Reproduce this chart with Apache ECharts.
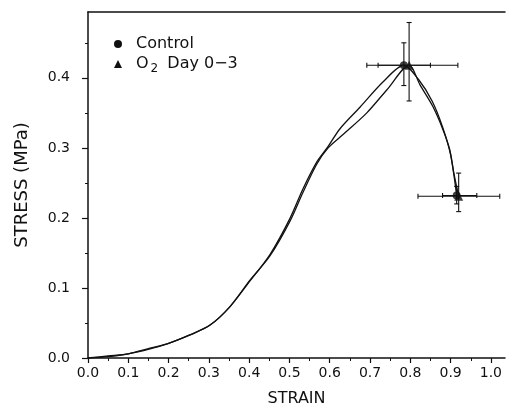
<!DOCTYPE html>
<html>
<head>
<meta charset="utf-8">
<script src="https://cdn.jsdelivr.net/npm/echarts@6/dist/echarts.min.js"></script>
<style>
html,body{margin:0;padding:0;background:#fff;}
#chart{width:510px;height:410px;}
</style>
</head>
<body>
<div id="chart"></div>
<script>
// ---- data ----
var xTicks = [0.0, 0.1, 0.2, 0.3, 0.4, 0.5, 0.6, 0.7, 0.8, 0.9, 1.0];
var yTicks = [0.0, 0.1, 0.2, 0.3, 0.4];
var seriesNames = ['Control', 'O2 Day 0-3'];

// [strain, stress]
var controlCurve = [
  [0.0, 0.0], [0.05, 0.003], [0.1, 0.006], [0.154, 0.013], [0.2, 0.021],
  [0.253, 0.033], [0.303, 0.047], [0.352, 0.073], [0.402, 0.110], [0.452, 0.148],
  [0.501, 0.199], [0.534, 0.242], [0.568, 0.280], [0.596, 0.302], [0.625, 0.327],
  [0.675, 0.358], [0.732, 0.394], [0.784, 0.418],
  [0.82, 0.398], [0.854, 0.367], [0.88, 0.330], [0.90, 0.290], [0.915, 0.232]
];
var o2Curve = [
  [0.0, 0.0], [0.05, 0.002], [0.1, 0.006], [0.154, 0.014], [0.2, 0.021],
  [0.253, 0.033], [0.303, 0.047], [0.352, 0.073], [0.402, 0.111], [0.452, 0.146],
  [0.501, 0.195], [0.534, 0.237], [0.568, 0.277], [0.596, 0.300], [0.633, 0.319],
  [0.692, 0.350], [0.742, 0.383], [0.797, 0.418],
  [0.824, 0.390], [0.856, 0.359], [0.881, 0.326], [0.898, 0.297], [0.908, 0.264], [0.92, 0.231]
];
// marked points: [x, y, xLow, xHigh, yLow, yHigh]
var controlMarks = [
  [0.784, 0.418, 0.72, 0.85, 0.389, 0.450],
  [0.915, 0.232, 0.88, 0.965, 0.220, 0.245]
];
var o2Marks = [
  [0.797, 0.418, 0.692, 0.918, 0.367, 0.479],
  [0.920, 0.231, 0.819, 1.022, 0.209, 0.264]
];

// ---- chart ----
var FONT = 'DejaVu Sans';
var INK = '#111';
var chart = echarts.init(document.getElementById('chart'), null, {renderer: 'canvas'});

function errRender(params, api) {
  var x = api.value(0), y = api.value(1);
  var c = api.coord([x, y]);
  var xl = api.coord([api.value(2), y]);
  var xh = api.coord([api.value(3), y]);
  var yl = api.coord([x, api.value(4)]);
  var yh = api.coord([x, api.value(5)]);
  var st = {stroke: INK, lineWidth: 1.1};
  var cap = 2.5;
  return {
    type: 'group',
    children: [
      {type: 'line', shape: {x1: xl[0], y1: c[1], x2: xh[0], y2: c[1]}, style: st},
      {type: 'line', shape: {x1: xl[0], y1: c[1] - cap, x2: xl[0], y2: c[1] + cap}, style: st},
      {type: 'line', shape: {x1: xh[0], y1: c[1] - cap, x2: xh[0], y2: c[1] + cap}, style: st},
      {type: 'line', shape: {x1: c[0], y1: yl[1], x2: c[0], y2: yh[1]}, style: st},
      {type: 'line', shape: {x1: c[0] - cap, y1: yl[1], x2: c[0] + cap, y2: yl[1]}, style: st},
      {type: 'line', shape: {x1: c[0] - cap, y1: yh[1], x2: c[0] + cap, y2: yh[1]}, style: st}
    ]
  };
}

function markPoints(arr) {
  return arr.map(function (r) { return [r[0], r[1]]; });
}

var option = {
  backgroundColor: '#fff',
  animation: false,
  textStyle: {fontFamily: FONT, color: INK},
  grid: {left: 88, right: 5, top: 12, bottom: 52, containLabel: false, outerBoundsMode: 'none'},
  legend: {
    orient: 'vertical',
    left: 109,
    top: 31,
    itemWidth: 8,
    itemHeight: 8,
    itemGap: 4,
    data: [
      {name: seriesNames[0], icon: 'circle'},
      {name: seriesNames[1], icon: 'triangle'}
    ],
    formatter: function (name) {
      if (name === seriesNames[1]) return 'O{sub|2} Day 0\u22123';
      return name;
    },
    textStyle: {
      fontFamily: FONT, fontSize: 16, color: INK, padding: [0, 0, 0, 9],
      rich: {sub: {fontFamily: FONT, fontSize: 12, color: INK, padding: [10, 4, 0, 2]}}
    },
    itemStyle: {color: INK}
  },
  xAxis: [{
    type: 'value', min: 0, max: 1.035, interval: 0.1,
    name: 'STRAIN', nameLocation: 'middle', nameGap: 33,
    nameTextStyle: {fontFamily: FONT, fontSize: 16, color: INK},
    axisLine: {show: true, onZero: false, lineStyle: {color: INK, width: 1.5}},
    axisTick: {show: true, length: 5, customValues: xTicks, lineStyle: {color: INK, width: 1.2}},
    minorTick: {show: true, splitNumber: 2, length: 3, lineStyle: {color: INK}},
    axisLabel: {customValues: xTicks, margin: 8, fontFamily: FONT, fontSize: 14, color: INK,
      formatter: function (v) { return v.toFixed(1); }},
    splitLine: {show: false}
  }, {
    type: 'value', position: 'top', min: 0, max: 1.035,
    axisLine: {show: true, onZero: false, lineStyle: {color: INK, width: 1.5}},
    axisTick: {show: false}, axisLabel: {show: false}, splitLine: {show: false}
  }],
  yAxis: {
    type: 'value', min: 0, max: 0.494, interval: 0.1,
    name: 'STRESS (MPa)', nameLocation: 'middle', nameGap: 57, nameRotate: 90,
    nameTextStyle: {fontFamily: FONT, fontSize: 18, color: INK},
    axisLine: {show: true, onZero: false, lineStyle: {color: INK, width: 1.5}},
    axisTick: {show: true, length: 6, customValues: yTicks, lineStyle: {color: INK, width: 1.2}},
    minorTick: {show: true, splitNumber: 2, length: 3, lineStyle: {color: INK}},
    axisLabel: {customValues: yTicks, margin: 18, fontFamily: FONT, fontSize: 14, color: INK,
      formatter: function (v) { return v.toFixed(1); }},
    splitLine: {show: false}
  },
  series: [
    {
      name: seriesNames[0], type: 'line', data: controlCurve, smooth: 0.3,
      showSymbol: false, symbol: 'none',
      lineStyle: {color: INK, width: 1.3}, itemStyle: {color: INK}, z: 3
    },
    {
      name: seriesNames[1], type: 'line', data: o2Curve, smooth: 0.3,
      showSymbol: false, symbol: 'none',
      lineStyle: {color: INK, width: 1.3}, itemStyle: {color: INK}, z: 3
    },
    {
      name: 'ctrlErr', type: 'custom', renderItem: errRender, data: controlMarks, z: 4,
      encode: {x: 0, y: 1}
    },
    {
      name: 'o2Err', type: 'custom', renderItem: errRender, data: o2Marks, z: 4,
      encode: {x: 0, y: 1}
    },
    {
      name: seriesNames[0] + ' pts', type: 'scatter', data: markPoints(controlMarks),
      symbol: 'circle', symbolSize: 8, itemStyle: {color: INK}, z: 5
    },
    {
      name: seriesNames[1] + ' pts', type: 'scatter', data: markPoints(o2Marks),
      symbol: 'triangle', symbolSize: 9, itemStyle: {color: INK}, z: 5
    }
  ]
};
chart.setOption(option);
</script>
</body>
</html>
